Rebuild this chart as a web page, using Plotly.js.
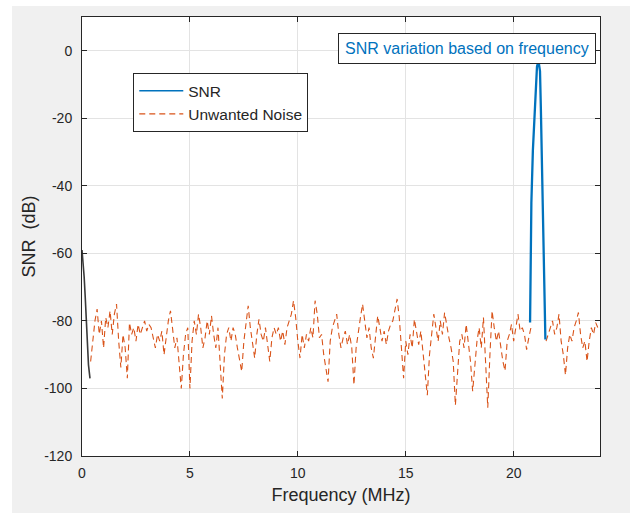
<!DOCTYPE html>
<html>
<head>
<meta charset="utf-8">
<script src="https://cdn.plot.ly/plotly-3.0.1.min.js"></script>
<style>
  html, body { margin: 0; padding: 0; background: #ffffff; width: 630px; height: 513px; overflow: hidden; }
  #chart { position: absolute; left: 12px; top: 6px; width: 618px; height: 507px; }
</style>
</head>
<body>
<div id="chart"></div>
<script>
// ---- data ----
// SNR: initial decay near 0 MHz
const snrStartFreq = [0, 0.05, 0.1, 0.15, 0.2, 0.25, 0.3, 0.37];
const snrStartDb   = [-59, -62, -67, -73, -80, -87, -93, -97];
// SNR: peak around 21 MHz
const snrPeakFreq = [20.76, 20.77, 20.82, 20.89, 20.97, 21.08, 21.15, 21.22, 21.26, 21.33, 21.40, 21.47];
const snrPeakDb   = [-80.5, -67, -45, -29.5, -17, -4.7, -3, -6, -17, -44, -65, -85.5];
// Unwanted noise, sampled every 0.1 MHz from 0.4 MHz to 24 MHz
const noiseStartMHz = 0.4;
const noiseStepMHz = 0.1;
const noiseDb = [
  -92, -86, -80, -76.5, -84, -80,
  -88, -79, -82, -77, -84, -78, -75, -86, -93.8, -84,
  -88, -97, -80.5, -84, -82, -86, -81, -84, -82, -80,
  -83, -81, -82, -85, -88, -84, -86, -83, -90, -85,
  -80, -77, -82, -88, -85, -92, -100, -90, -84, -82,
  -100, -86, -80, -84, -78, -82, -88, -85, -80, -84,
  -78.5, -84, -88, -82, -94, -103, -90, -84, -82, -86,
  -82, -84, -88, -92, -95, -86, -80, -75.5, -82, -86,
  -91, -84, -79.5, -84, -86, -82, -88, -92, -85, -82,
  -84, -82, -86, -83, -87, -82, -80, -78, -74, -79,
  -86, -91, -84, -88, -84, -86, -82, -85, -74, -78,
  -85, -84, -90, -94, -98, -86, -82, -80, -78, -84,
  -88, -85, -83, -87, -84, -88, -99, -88, -83, -79,
  -75, -81, -85, -82, -88, -91, -84, -78.5, -82, -86,
  -83, -87, -83, -81, -80, -77, -73.5, -79, -88, -97,
  -86, -90, -84, -88, -79.5, -84, -87, -83, -90, -96,
  -102, -90, -84, -78, -82, -86, -80, -84, -77.5, -82,
  -85, -88, -92, -105, -96, -86, -84, -88, -81, -86,
  -92, -100.8, -94, -86, -82, -88, -79, -95, -105.7, -90,
  -77, -82, -86, -83, -88, -92, -94.8, -86, -84, -81,
  -86, -82, -78, -83, -82, -84, -88.5, -85, -82, null,
  null, null, null, null, null, -86, -84, -82, -80, -84,
  -82, -78, -86, -90, -96, -88, -84, -86, -82, -80,
  -77.5, -84, -88, -86, -92, -86, -82, -84, -80.5, -82, -83
];
const noiseFreq = noiseDb.map((_, i) => +(noiseStartMHz + noiseStepMHz * i).toFixed(2));

const xTickVals = [0, 5, 10, 15, 20];
const yTickVals = [-120, -100, -80, -60, -40, -20, 0];
const annotationText = 'SNR variation based on frequency';

// ---- styling ----
const FONT = '"Liberation Sans", Arial, Helvetica, sans-serif';
const AX = '#262626';
const BLUE = '#0072BD';
const ORANGE = '#D95319';

const traces = [
  { x: [null], y: [null], type: 'scatter', mode: 'lines', name: 'SNR',
    line: { color: BLUE, width: 1.3 }, showlegend: true, hoverinfo: 'skip' },
  { x: noiseFreq, y: noiseDb, type: 'scatter', mode: 'lines', name: 'Unwanted Noise',
    line: { color: ORANGE, width: 1.1, dash: '6px,4px' }, connectgaps: false },
  { x: snrStartFreq, y: snrStartDb, type: 'scatter', mode: 'lines', name: 'SNR',
    line: { color: '#3a3a3a', width: 1.6 }, showlegend: false },
  { x: snrPeakFreq, y: snrPeakDb, type: 'scatter', mode: 'lines', name: 'SNR',
    line: { color: BLUE, width: 2.3 }, showlegend: false }
];

const axisCommon = {
  showline: true, linecolor: AX, linewidth: 1,
  mirror: 'ticks', ticks: 'inside', ticklen: 5, tickcolor: AX, tickwidth: 1,
  showgrid: true, gridcolor: '#e3e3e3', gridwidth: 1,
  zeroline: false,
  tickfont: { family: FONT, size: 14, color: AX }
};

const layout = {
  width: 618, height: 507,
  paper_bgcolor: '#f0f0f0', plot_bgcolor: '#ffffff',
  margin: { l: 70, r: 30, t: 11, b: 57 },
  font: { family: FONT, color: AX },
  showlegend: true,
  legend: {
    x: 0.099, y: 0.872, xanchor: 'left', yanchor: 'top',
    bgcolor: '#ffffff', bordercolor: AX, borderwidth: 1,
    font: { family: FONT, size: 15.5, color: AX },
    itemwidth: 44,
    tracegroupgap: 0
  },
  xaxis: Object.assign({}, axisCommon, {
    range: [0, 24], tickvals: xTickVals, ticktext: xTickVals.map(String),
    ticklabelstandoff: 4,
    title: { text: 'Frequency (MHz)', font: { family: FONT, size: 18, color: AX }, standoff: 8 }
  }),
  yaxis: Object.assign({}, axisCommon, {
    range: [-120, 10], tickvals: yTickVals, ticktext: yTickVals.map(String),
    ticklabelstandoff: 6,
    title: { text: 'SNR\u00a0 (dB)', font: { family: FONT, size: 18, color: AX }, standoff: 3 }
  }),
  annotations: [{
    x: 17.85, y: 0.6, xref: 'x', yref: 'y',
    text: annotationText, showarrow: false,
    font: { family: FONT, size: 16, color: BLUE },
    bgcolor: '#ffffff', bordercolor: AX, borderwidth: 1, borderpad: 6
  }]
};

Plotly.newPlot('chart', traces, layout, { staticPlot: true, displayModeBar: false });
</script>
</body>
</html>
